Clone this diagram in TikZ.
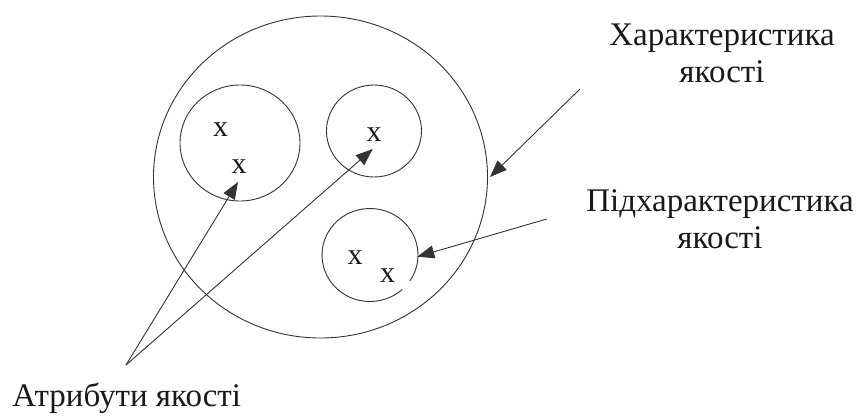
\documentclass[tikz,border=0pt]{standalone}
\usepackage{fontspec}
\setmainfont{Liberation Serif}
\usetikzlibrary{arrows.meta}
\begin{document}
\begin{tikzpicture}[x=1pt,y=-1pt,line width=0.9pt,
  ln/.style={draw=black!80},
  conn/.style={draw=black!80,-{Triangle[length=17pt,width=13pt]}},
  lbl/.style={font=\fontsize{33}{37}\selectfont,align=center,inner sep=0pt,text=black!90},
  xm/.style={font=\fontsize{30}{30}\selectfont,inner sep=0pt,text=black!90}]
\useasboundingbox (0,0) rectangle (860,418);
% circles
\draw[ln] (320.5,177) ellipse [x radius=167,y radius=161];
\draw[ln] (240,143) ellipse [x radius=60,y radius=58];
\draw[ln] (374,131) ellipse [x radius=47.5,y radius=46];
\draw[ln] (370,255) ++(48:48 and 46.5) arc [start angle=48,end angle=394,x radius=48,y radius=46.5];
% x marks
\node[xm] (x1) at (220.7,130) {x};
\node[xm] (x2) at (239,167) {x};
\node[xm] (x3) at (374,135) {x};
\node[xm] (x4) at (355,258) {x};
\node[xm] (x5) at (387.7,276) {x};
% labels
\node[lbl,anchor=base] (char) at (722,82) {Характеристика\\якості};
\node[lbl,anchor=base] (sub) at (720,248) {Підхарактеристика\\якості};
\node[lbl,anchor=base west] (attr) at (12,406.7) {Атрибути якості};
% connector ends
\coordinate (apex) at (126,365);
\coordinate (t1) at (238,182);
\coordinate (t2) at (372.7,149);
\coordinate (s3) at (580,89);
\coordinate (t3) at (490,177);
\coordinate (s4) at (546.7,219);
\coordinate (t4) at (417.3,256.7);
\draw[conn] (apex) -- (t1);
\draw[conn] (apex) -- (t2);
\draw[conn] (s3) -- (t3);
\draw[conn] (s4) -- (t4);
\end{tikzpicture}
\end{document}
